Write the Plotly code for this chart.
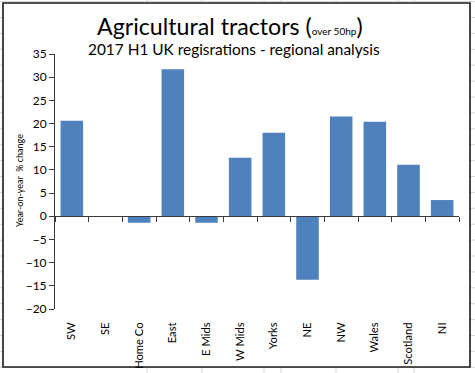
import plotly.graph_objects as go

regions = ["SW", "SE", "Home Co", "East", "E Mids", "W Mids", "Yorks", "NE",
           "NW", "Wales", "Scotland", "NI"]
yoy_change = [20.6, 0.0, -1.4, 31.7, -1.4, 12.6, 18.0, -13.7, 21.5, 20.4, 11.1, 3.5]
y_ticks = [-20, -15, -10, -5, 0, 5, 10, 15, 20, 25, 30, 35]

FONT = "Lato"
FIG_W, FIG_H = 475, 373
L, R, T, B = 55, 459, 54, 309
PW, PH = R - L, B - T


def px(x):
    return (x - L) / PW


def py(y):
    return (B - y) / PH


fig = go.Figure()
fig.add_trace(go.Bar(
    x=regions, y=yoy_change,
    marker=dict(color="#4F81BD", line=dict(width=0)),
    showlegend=False,
))
# helper trace for the category axis line drawn at y = 0
fig.add_trace(go.Scatter(
    x=regions, y=[0] * len(regions), xaxis="x2", yaxis="y",
    mode="markers", marker=dict(size=1, opacity=0), hoverinfo="skip",
    showlegend=False,
))

shapes = []
grid_col = "#d4d4d4"
# spreadsheet cell grid behind the chart object
cols = [147, 202, 264, 281, 336, 398, 414]
for c in cols:
    shapes.append(dict(type="line", xref="paper", yref="paper", layer="below",
                       x0=px(c), x1=px(c), y0=py(0), y1=py(FIG_H),
                       line=dict(color=grid_col, width=1)))
r = 208.3 - 15.9 * 13
while r < FIG_H:
    shapes.append(dict(type="line", xref="paper", yref="paper", layer="below",
                       x0=px(0), x1=px(FIG_W), y0=py(r), y1=py(r),
                       line=dict(color=grid_col, width=1)))
    r += 15.9
# chart area (white with dark border)
shapes.append(dict(type="rect", xref="paper", yref="paper", layer="below",
                   x0=px(3), x1=px(470), y0=py(367), y1=py(3),
                   fillcolor="white", line=dict(color="#1a1a1a", width=1.6)))

zero_pos = (0 - (-20)) / (35 - (-20))

fig.update_layout(
    template="none",
    width=FIG_W, height=FIG_H,
    margin=dict(l=L, r=FIG_W - R, t=T, b=FIG_H - B, autoexpand=False),
    paper_bgcolor="white", plot_bgcolor="rgba(0,0,0,0)",
    font=dict(family=FONT, color="#000000"),
    bargap=0.33,
    shapes=shapes,
    xaxis=dict(
        type="category", categoryorder="array", categoryarray=regions,
        range=[-0.5, len(regions) - 0.5], automargin=False,
        showline=False, showgrid=False, zeroline=False,
        ticks="outside", ticklen=8, tickcolor="rgba(0,0,0,0)",
        tickangle=-90, tickfont=dict(size=11.2, family=FONT),
    ),
    xaxis2=dict(
        type="category", categoryorder="array", categoryarray=regions,
        range=[-0.5, len(regions) - 0.5], automargin=False,
        overlaying="x", anchor="free", position=zero_pos,
        showline=True, linecolor="#3a3a3a", linewidth=1,
        ticks="outside", tickson="boundaries", ticklen=5, tickcolor="#3a3a3a",
        showticklabels=False, showgrid=False, zeroline=False,
    ),
    yaxis=dict(
        range=[-20, 35], tickvals=y_ticks, automargin=False,
        showline=True, linecolor="#3a3a3a", linewidth=1,
        ticks="outside", ticklen=5, tickcolor="#3a3a3a",
        showgrid=False, zeroline=False,
        tickfont=dict(size=12, family=FONT),
    ),
    annotations=[
        dict(text="Agricultural tractors (<span style='font-size:10px'>over 50hp</span>)",
             xref="paper", yref="paper", x=px(230), y=py(26),
             xanchor="center", yanchor="middle", showarrow=False,
             font=dict(size=23.2, family=FONT)),
        dict(text="2017 H1 UK regisrations - regional analysis",
             xref="paper", yref="paper", x=px(234), y=py(49),
             xanchor="center", yanchor="middle", showarrow=False,
             font=dict(size=15.4, family=FONT)),
        dict(text="Year-on-year  % change",
             xref="paper", yref="paper", x=px(19), y=py(181),
             xanchor="center", yanchor="middle", textangle=-90, showarrow=False,
             font=dict(size=9, family=FONT)),
    ],
)

fig.write_html(
    "out.html",
    config={"displayModeBar": False},
    post_script="document.body.style.margin='0';document.body.style.overflow='hidden';",
)
